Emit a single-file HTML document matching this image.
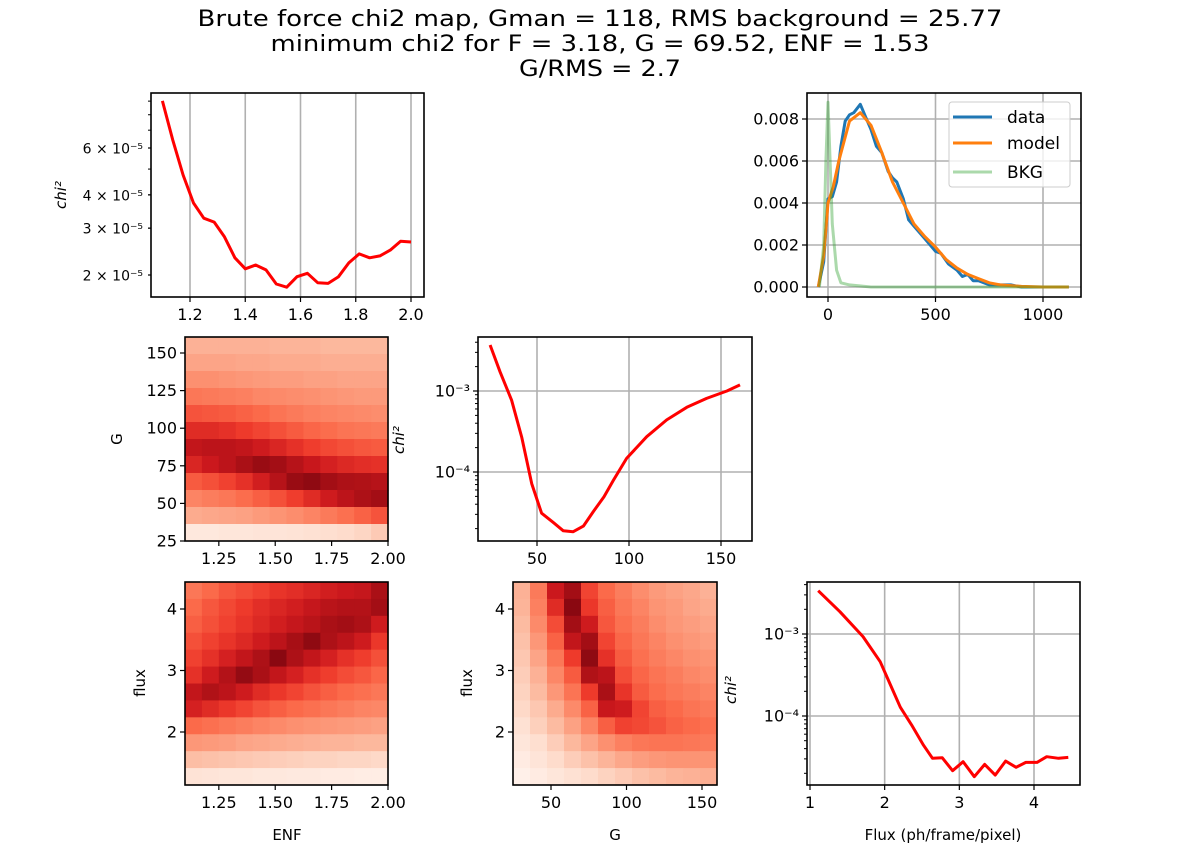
<!DOCTYPE html>
<html><head><meta charset="utf-8"><title>Brute force chi2 map</title>
<style>
html,body{margin:0;padding:0;background:#fff;}
svg{display:block;font-family:"DejaVu Sans","Liberation Sans",sans-serif;}
</style></head>
<body>
<svg id="fig" width="1200" height="850" viewBox="0 0 1200 850" xmlns="http://www.w3.org/2000/svg">
<rect x="0" y="0" width="1200" height="850" fill="#fff"/>
<g font-size="22" text-anchor="middle" fill="#000">
<text x="600" y="26" textLength="805" lengthAdjust="spacingAndGlyphs">Brute force chi2 map, Gman = 118, RMS background = 25.77</text>
<text x="600" y="51" textLength="659" lengthAdjust="spacingAndGlyphs">minimum chi2 for F = 3.18, G = 69.52, ENF = 1.53</text>
<text x="600" y="76" textLength="162" lengthAdjust="spacingAndGlyphs">G/RMS = 2.7</text>
</g>
</svg>
<script>
// ---------- data ----------
const enfVals = [1.1,1.1375,1.175,1.2125,1.25,1.2875,1.325,1.3625,1.4,1.4375,1.475,1.5125,1.55,1.5875,1.625,1.6625,1.7,1.7375,1.775,1.8125,1.85,1.8875,1.925,1.9625,2.0];
const enfChi2 = [9.02e-5,6.44e-5,4.75e-5,3.73e-5,3.27e-5,3.16e-5,2.78e-5,2.32e-5,2.11e-5,2.18e-5,2.09e-5,1.85e-5,1.80e-5,1.97e-5,2.03e-5,1.87e-5,1.86e-5,1.97e-5,2.22e-5,2.40e-5,2.32e-5,2.36e-5,2.48e-5,2.68e-5,2.66e-5];
const enfTicks = [1.2,1.4,1.6,1.8,2.0];
const enfTickLabels = ["1.2","1.4","1.6","1.8","2.0"];
const p1YTicks = [2e-5,3e-5,4e-5,6e-5];
const p1YTickLabels = ["2 × 10⁻⁵","3 × 10⁻⁵","4 × 10⁻⁵","6 × 10⁻⁵"];

const dataX = [-45,-20,0,20,40,60,80,100,120,150,175,200,225,250,280,300,320,350,375,400,450,500,525,560,600,625,650,675,700,750,850,900,1120];
const dataY = [0,0.0012,0.0042,0.0043,0.0050,0.0067,0.0079,0.0082,0.0083,0.0087,0.0081,0.0075,0.0067,0.0064,0.0055,0.0052,0.0050,0.0042,0.0032,0.0029,0.0023,0.0017,0.0016,0.0011,0.0008,0.0005,0.0006,0.0003,0.0003,0.0001,0.0001,0,0];
const modelX = [-45,-20,0,25,50,100,150,200,250,300,350,400,450,500,550,600,650,700,750,800,900,1000,1120];
const modelY = [0,0.0015,0.0040,0.0048,0.0060,0.0079,0.0083,0.0077,0.0064,0.0050,0.0040,0.0030,0.0024,0.0019,0.0013,0.0009,0.0006,0.0004,0.0002,0.0001,0.00003,0,0];
const bkgX = [-40,-20,-10,0,10,20,40,60,100,200,1120];
const bkgY = [0,0.002,0.006,0.0088,0.006,0.003,0.0008,0.0002,0.0001,0,0];
const histXTicks = [0,500,1000];
const histXTickLabels = ["0","500","1000"];
const histYTicks = [0,0.002,0.004,0.006,0.008];
const histYTickLabels = ["0.000","0.002","0.004","0.006","0.008"];

const gVals = [24.5,29.9,36.2,41.7,47.1,52.5,58.9,64.3,69.7,75.2,80.6,86.4,91.5,98.7,109.6,120.5,131.4,142.2,153.2,160.3];
const gChi2 = [3.7e-3,1.73e-3,7.7e-4,2.7e-4,7.2e-5,3.1e-5,2.37e-5,1.88e-5,1.83e-5,2.15e-5,3.24e-5,4.95e-5,7.9e-5,1.47e-4,2.73e-4,4.4e-4,6.3e-4,8.1e-4,1.0e-3,1.19e-3];
const gTicks = [50,100,150];
const gTickLabels = ["50","100","150"];

const fluxVals = [1.11,1.40,1.71,1.94,2.21,2.36,2.52,2.64,2.77,2.91,3.05,3.20,3.34,3.48,3.62,3.76,3.89,4.04,4.17,4.33,4.46];
const fluxChi2 = [3.37e-3,1.87e-3,9.3e-4,4.6e-4,1.28e-4,7.8e-5,4.4e-5,3.05e-5,3.1e-5,2.15e-5,2.77e-5,1.82e-5,2.57e-5,1.9e-5,2.82e-5,2.37e-5,2.72e-5,2.72e-5,3.19e-5,3.05e-5,3.13e-5];
const fluxTicks = [1,2,3,4];
const fluxTickLabels = ["1","2","3","4"];
const logTicks = [1e-4,1e-3];
const logTickLabels = ["10⁻⁴","10⁻³"];

const heatENFTicks = [1.25,1.5,1.75,2.0];
const heatENFTickLabels = ["1.25","1.50","1.75","2.00"];
const heatGYTicks = [25,50,75,100,125,150];
const heatGYTickLabels = ["25","50","75","100","125","150"];
const heatFluxTicks = [2,3,4];
const heatFluxTickLabels = ["2","3","4"];

// heatmap intensities (0 = white, 1 = darkest red), rows top -> bottom
const heatEnfG = [
[.28,.28,.28,.28,.28,.27,.27,.27,.26,.26,.26,.26],
[.32,.32,.32,.31,.31,.30,.30,.30,.29,.29,.29,.29],
[.38,.38,.37,.36,.35,.34,.34,.33,.33,.32,.32,.32],
[.46,.45,.44,.43,.41,.40,.39,.38,.37,.36,.35,.35],
[.56,.55,.54,.52,.50,.47,.45,.43,.42,.41,.40,.39],
[.68,.68,.66,.63,.60,.57,.54,.51,.49,.47,.46,.45],
[.78,.80,.80,.78,.74,.70,.66,.62,.59,.57,.55,.54],
[.70,.75,.80,.86,.90,.88,.82,.76,.72,.69,.67,.66],
[.54,.57,.61,.66,.73,.82,.90,.92,.88,.85,.84,.82],
[.42,.44,.46,.49,.53,.57,.62,.68,.74,.80,.85,.88],
[.30,.31,.32,.33,.35,.37,.39,.42,.45,.48,.52,.56],
[.08,.08,.09,.09,.10,.10,.11,.12,.13,.14,.16,.20]];
const heatEnfFlux = [
[.46,.50,.55,.58,.61,.65,.67,.70,.73,.75,.77,.86],
[.50,.55,.59,.63,.67,.70,.73,.77,.81,.83,.83,.88],
[.53,.57,.61,.65,.69,.73,.77,.81,.86,.88,.85,.74],
[.57,.61,.65,.69,.74,.80,.87,.92,.85,.80,.74,.64],
[.61,.66,.72,.78,.85,.93,.85,.78,.72,.66,.62,.57],
[.66,.74,.83,.91,.86,.78,.72,.66,.62,.58,.55,.51],
[.78,.84,.80,.74,.68,.64,.60,.56,.53,.50,.48,.46],
[.72,.68,.64,.60,.56,.53,.50,.48,.46,.44,.42,.41],
[.50,.48,.46,.44,.42,.40,.38,.37,.36,.35,.34,.33],
[.36,.35,.34,.32,.31,.30,.29,.28,.27,.27,.26,.26],
[.24,.23,.22,.21,.20,.19,.18,.17,.17,.16,.16,.15],
[.11,.10,.09,.09,.08,.08,.07,.07,.06,.06,.05,.05]];
const heatGFlux = [
[.28,.45,.75,.88,.60,.50,.44,.39,.35,.33,.31,.28],
[.27,.43,.68,.93,.64,.53,.46,.42,.37,.35,.32,.30],
[.25,.40,.58,.88,.74,.55,.48,.44,.39,.36,.34,.32],
[.23,.36,.52,.78,.88,.60,.51,.46,.42,.38,.36,.34],
[.21,.32,.46,.63,.92,.66,.54,.48,.44,.41,.38,.37],
[.19,.28,.41,.54,.84,.80,.58,.51,.47,.44,.41,.39],
[.17,.25,.36,.47,.63,.86,.65,.54,.49,.46,.44,.42],
[.15,.21,.30,.40,.52,.76,.74,.60,.53,.50,.47,.45],
[.12,.18,.25,.33,.42,.53,.61,.59,.56,.52,.50,.48],
[.09,.13,.19,.26,.32,.38,.43,.46,.47,.47,.46,.45],
[.06,.10,.14,.19,.23,.27,.31,.34,.36,.37,.37,.37],
[.03,.06,.09,.12,.14,.17,.20,.23,.25,.27,.28,.29]];

// ---------- helpers ----------
const NS = "http://www.w3.org/2000/svg";
const fig = document.getElementById('fig');
function mk(tag, attrs, parent){
  const e = document.createElementNS(NS, tag);
  for (const k in attrs) e.setAttribute(k, attrs[k]);
  (parent || fig).appendChild(e);
  return e;
}
const redsStops = [[255,245,240],[254,224,210],[252,187,161],[252,146,114],[251,106,74],[239,59,44],[203,24,29],[165,15,21],[103,0,13]];
function reds(t){
  t = Math.max(0, Math.min(1, t)) * 8;
  const i = Math.min(7, Math.floor(t)), f = t - i;
  const a = redsStops[i], b = redsStops[i+1];
  return 'rgb(' + a.map((v,k)=>Math.round(v + (b[k]-v)*f)).join(',') + ')';
}
function linScale(d0, d1, r0, r1){ return v => r0 + (v - d0) / (d1 - d0) * (r1 - r0); }
function logScale(d0, d1, r0, r1){ return v => r0 + (Math.log10(v) - Math.log10(d0)) / (Math.log10(d1) - Math.log10(d0)) * (r1 - r0); }

function frame(g, L, T, R, B){
  const f = mk('rect', {x:L, y:T, width:R-L, height:B-T, fill:'none', stroke:'#000', 'stroke-width':1.6}, g);
  
  
}
function xTicks(g, ticks, labels, sx, T, B, grid){
  ticks.forEach((v,i)=>{
    const x = sx(v);
    if (grid) {
      const gl = mk('line', {x1:x, x2:x, y1:T, y2:B, stroke:'#b0b0b0', 'stroke-width':1.6}, g);
      
      
    }
    mk('line', {x1:x, x2:x, y1:B, y2:B+5, stroke:'#000', 'stroke-width':1.2}, g);
    const t = mk('text', {x:x, y:B+23, 'font-size':16, 'text-anchor':'middle'}, g);
    t.textContent = labels[i];
    
    
  });
}
function yTicks(g, ticks, labels, sy, L, R, grid, major, fs){
  ticks.forEach((v,i)=>{
    const y = sy(v);
    if (grid) {
      const gl = mk('line', {x1:L, x2:R, y1:y, y2:y, stroke:'#b0b0b0', 'stroke-width':1.6}, g);
      
      
    }
    mk('line', {x1:L-(major?5:3), x2:L, y1:y, y2:y, stroke:'#000', 'stroke-width':1.2}, g);
    const t = mk('text', {x:L-8, y:y+5.5, 'font-size':fs||16, 'text-anchor':'end'}, g);
    t.textContent = labels[i];
    
    
  });
}
function minorLogTicks(g, sy, L, T, B){
  for (let e = -6; e <= -1; e++) for (let m = 2; m <= 9; m++) {
    const y = sy(m * Math.pow(10, e));
    if (y > T && y < B) mk('line', {x1:L-3, x2:L, y1:y, y2:y, stroke:'#000', 'stroke-width':1}, g);
  }
}
function line(g, xs, ys, sx, sy, color, w, op){
  const pts = xs.map((v,i)=>sx(v).toFixed(1)+','+sy(ys[i]).toFixed(1)).join(' ');
  return mk('polyline', {points:pts, fill:'none', stroke:color, 'stroke-width':w, 'stroke-linejoin':'round', 'stroke-linecap':'butt', 'stroke-opacity':op||1}, g);
}
function yLabel(g, x, y, text, italicChi){
  const t = mk('text', {x:x, y:y, 'font-size':15, 'text-anchor':'middle', transform:'rotate(-90 '+x+' '+y+')'}, g);
  if (italicChi) { t.setAttribute('font-style','italic'); t.textContent = 'chi²'; }
  else t.textContent = text;
  
  
  return t;
}
function xLabel(g, x, y, text){
  const t = mk('text', {x:x, y:y, 'font-size':15, 'text-anchor':'middle'}, g);
  t.textContent = text;
  
  
}
function heatmap(g, grid, L, T, R, B){
  const rows = grid.length, cols = grid[0].length;
  const cw = (R-L)/cols, ch = (B-T)/rows;
  grid.forEach((row,r)=>row.forEach((v,c)=>{
    const cell = mk('rect', {x:(L+c*cw).toFixed(2), y:(T+r*ch).toFixed(2), width:(cw+0.6).toFixed(2), height:(ch+0.6).toFixed(2), fill:reds(v)}, g);
    
    
  }));
}

// ---------- panel 1: chi2 vs ENF ----------
{
  const g = mk('g', {});
  
  
  const L=151,T=93,R=424,B=297;
  const sx = linScale(1.2, 2.0, 190, 411);
  const sy = logScale(2e-5, 6e-5, 275, 148);
  xTicks(g, enfTicks, enfTickLabels, sx, T, B, true);
  minorLogTicks(g, sy, L, T, B);
  yTicks(g, p1YTicks, p1YTickLabels, sy, L, R, false, false, 14);
  const l = line(g, enfVals, enfChi2, sx, sy, '#ff0000', 3);
  
  
  frame(g, L, T, R, B);
  yLabel(g, 66, 195, '', true);
}

// ---------- panel 2: histogram fit ----------
{
  const g = mk('g', {});
  
  
  const L=807,T=93,R=1081,B=297;
  const sx = linScale(0, 500, 828, 935.5);
  const sy = linScale(0, 0.008, 287, 119);
  xTicks(g, histXTicks, histXTickLabels, sx, T, B, true);
  yTicks(g, histYTicks, histYTickLabels, sy, L, R, true, true);
  const d = line(g, dataX, dataY, sx, sy, '#1f77b4', 3);
  
  
  const m = line(g, modelX, modelY, sx, sy, '#ff7f0e', 3);
  
  
  const b = line(g, bkgX, bkgY, sx, sy, '#2ca02c', 3, 0.4);
  
  
  frame(g, L, T, R, B);
  const lg = mk('g', {}, g);
  
  
  mk('rect', {x:949, y:102, width:121, height:85, rx:3, fill:'#fff', 'fill-opacity':0.8, stroke:'#cccccc', 'stroke-width':1}, lg);
  const entries = [['data','#1f77b4',1,117],['model','#ff7f0e',1,143],['BKG','#2ca02c',0.4,172]];
  entries.forEach(e=>{
    const eg = mk('g', {}, lg);
    
    
    mk('line', {x1:953, x2:992, y1:e[3], y2:e[3], stroke:e[1], 'stroke-width':3, 'stroke-opacity':e[2]}, eg);
    const t = mk('text', {x:1007, y:e[3]+6, 'font-size':17}, eg);
    t.textContent = e[0];
  });
}

// ---------- panel 3: heatmap ENF vs G ----------
{
  const g = mk('g', {});
  
  
  const L=185,T=337,R=388,B=541;
  heatmap(g, heatEnfG, L, T, R, B);
  const sx = linScale(1.1, 2.0, L, R);
  const sy = linScale(25, 150, 541, 353);
  xTicks(g, heatENFTicks, heatENFTickLabels, sx, T, B, false);
  yTicks(g, heatGYTicks, heatGYTickLabels, sy, L, R, false, true);
  frame(g, L, T, R, B);
  yLabel(g, 122, 439, 'G', false);
}

// ---------- panel 4: chi2 vs G ----------
{
  const g = mk('g', {});
  
  
  const L=478,T=337,R=752,B=541;
  const sx = linScale(50, 150, 537, 721);
  const sy = logScale(1e-4, 1e-3, 472, 391);
  xTicks(g, gTicks, gTickLabels, sx, T, B, true);
  minorLogTicks(g, sy, L, T, B);
  yTicks(g, logTicks, logTickLabels, sy, L, R, true, true);
  const l = line(g, gVals, gChi2, sx, sy, '#ff0000', 3);
  
  
  frame(g, L, T, R, B);
  yLabel(g, 404, 440, '', true);
}

// ---------- panel 5: heatmap ENF vs flux ----------
{
  const g = mk('g', {});
  
  
  const L=185,T=582,R=388,B=785;
  heatmap(g, heatEnfFlux, L, T, R, B);
  const sx = linScale(1.1, 2.0, L, R);
  const sy = linScale(2, 4, 732, 609);
  xTicks(g, heatENFTicks, heatENFTickLabels, sx, T, B, false);
  yTicks(g, heatFluxTicks, heatFluxTickLabels, sy, L, R, false, true);
  frame(g, L, T, R, B);
  yLabel(g, 145, 683, 'flux', false);
  xLabel(g, 287, 840, 'ENF');
}

// ---------- panel 6: heatmap G vs flux ----------
{
  const g = mk('g', {});
  
  
  const L=513,T=582,R=717,B=785;
  heatmap(g, heatGFlux, L, T, R, B);
  const sx = linScale(50, 150, 551, 702);
  const sy = linScale(2, 4, 732, 609);
  xTicks(g, gTicks, gTickLabels, sx, T, B, false);
  yTicks(g, heatFluxTicks, heatFluxTickLabels, sy, L, R, false, true);
  frame(g, L, T, R, B);
  yLabel(g, 472, 683, 'flux', false);
  xLabel(g, 615, 840, 'G');
}

// ---------- panel 7: chi2 vs flux ----------
{
  const g = mk('g', {});
  
  
  const L=807,T=582,R=1080,B=785;
  const sx = linScale(1, 4, 810, 1034);
  const sy = logScale(1e-4, 1e-3, 716, 634);
  xTicks(g, fluxTicks, fluxTickLabels, sx, T, B, true);
  minorLogTicks(g, sy, L, T, B);
  yTicks(g, logTicks, logTickLabels, sy, L, R, true, true);
  const l = line(g, fluxVals, fluxChi2, sx, sy, '#ff0000', 3);
  
  
  frame(g, L, T, R, B);
  yLabel(g, 736, 690, '', true);
  xLabel(g, 943, 840, 'Flux (ph/frame/pixel)');
}
</script>
</body></html>
